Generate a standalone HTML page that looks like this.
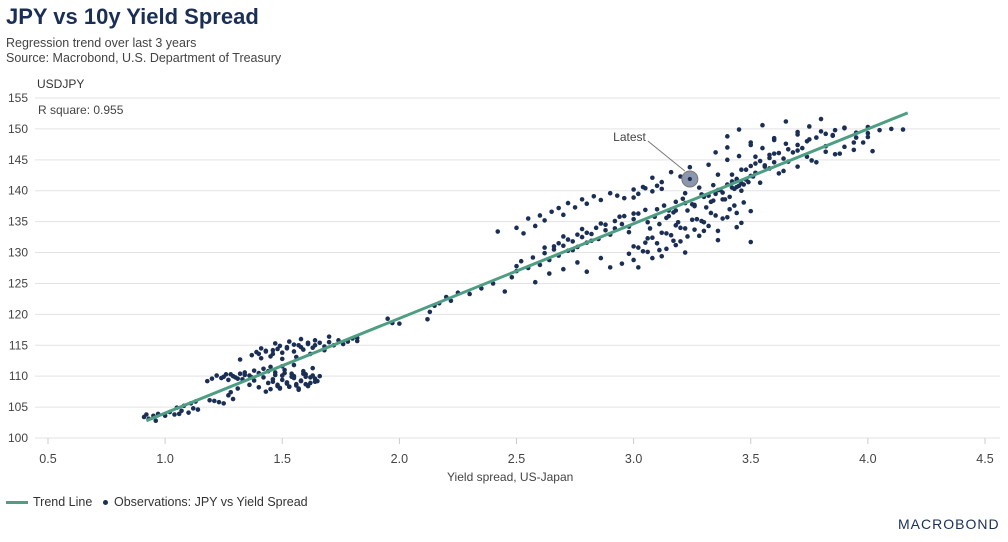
<!DOCTYPE html>
<html><head><meta charset="utf-8"><style>
body{margin:0;background:#fff;font-family:"Liberation Sans",sans-serif;}
#wrap{position:relative;width:1008px;height:542px;overflow:hidden;}
.t{position:absolute;white-space:nowrap;}
</style></head><body>
<div id="wrap">
<div class="t" style="left:6px;top:4px;font-size:22px;font-weight:bold;color:#1b2f55;">JPY vs 10y Yield Spread</div>
<div class="t" style="left:6px;top:36px;font-size:12.5px;color:#444;">Regression trend over last 3 years</div>
<div class="t" style="left:6px;top:51px;font-size:12.5px;color:#444;">Source: Macrobond, U.S. Department of Treasury</div>
<div class="t" style="left:37px;top:77px;font-size:12px;color:#333;">USDJPY</div>
<div class="t" style="left:38px;top:103px;font-size:12px;color:#444;">R square: 0.955</div>
<svg id="plot" width="1008" height="542" style="position:absolute;left:0;top:0"></svg>
<div class="t" style="left:447px;top:470px;font-size:12px;color:#444;">Yield spread, US-Japan</div>
<div class="t" style="left:6px;top:495px;font-size:12.5px;color:#333;"><span style="display:inline-block;width:22px;height:3px;background:#4e9e84;vertical-align:middle;margin-right:5px;"></span>Trend Line</div>
<div class="t" style="left:103px;top:495px;font-size:12.5px;color:#333;"><span style="display:inline-block;width:5px;height:5px;border-radius:50%;background:#1b2f55;vertical-align:middle;margin-right:6px;"></span>Observations: JPY vs Yield Spread</div>
<div class="t" style="left:898px;top:516px;font-size:14px;letter-spacing:1px;color:#1b2f55;">MACROBOND</div>
</div>
<script>
const xTicks=[0.5,1.0,1.5,2.0,2.5,3.0,3.5,4.0,4.5];
const yTicks=[100,105,110,115,120,125,130,135,140,145,150,155];
const trendX=[0.92,4.17];
const trendY=[102.8,152.6];
const latestPoint=[3.24,141.9];
const obsX=[0.91,0.92,0.93,0.95,0.96,0.97,1.0,1.02,1.04,1.05,1.06,1.07,1.08,1.1,1.11,1.12,1.13,1.14,
1.19,1.21,1.23,1.25,1.27,1.28,1.29,1.31,
1.18,1.2,1.22,1.24,1.26,1.27,1.29,1.3,1.32,1.33,1.34,1.36,1.38,1.4,1.42,1.44,1.45,
1.36,1.38,1.4,1.42,1.44,1.46,1.48,1.5,1.52,1.53,1.55,1.56,1.58,1.6,1.62,1.64,1.45,1.47,1.49,1.51,1.54,1.57,1.59,1.61,1.63,1.66,1.43,1.5,1.55,1.6,
1.32,1.37,1.39,1.41,1.43,1.46,1.48,1.5,1.52,1.55,1.57,1.59,1.61,1.63,1.66,1.68,1.7,1.72,1.74,1.76,1.78,1.8,1.82,1.45,1.5,1.56,1.62,1.68,1.41,1.47,1.53,1.58,1.64,1.7,
1.82,1.95,1.97,2.0,2.12,2.13,2.15,2.17,2.2,2.22,2.25,2.3,2.35,2.4,2.45,2.48,2.5,
2.42,2.5,2.53,2.55,2.58,2.6,2.62,2.65,2.68,2.7,2.72,2.75,2.78,2.8,2.83,2.86,2.9,2.93,2.96,3.0,3.02,3.05,3.08,3.1,3.12,
2.5,2.52,2.55,2.57,2.6,2.62,2.64,2.66,2.68,2.7,2.72,2.74,2.76,2.78,2.8,2.82,2.85,2.88,2.92,2.95,2.98,3.0,
2.66,2.7,2.74,2.78,2.82,2.86,2.9,2.94,2.98,3.02,3.06,3.1,3.14,3.18,3.22,3.26,3.3,3.34,3.38,3.42,3.46,
2.95,2.98,3.0,3.02,3.04,3.06,3.08,3.1,3.12,3.14,3.16,3.18,3.2,3.22,3.25,3.28,3.3,3.33,3.36,3.4,3.43,3.46,3.5,
3.0,3.04,3.08,3.12,3.16,3.2,3.24,3.28,3.32,3.36,3.4,3.44,3.48,3.52,3.56,3.6,
3.15,3.18,3.22,3.26,3.3,3.34,3.38,3.42,3.46,3.5,3.54,3.58,3.62,3.66,3.7,3.74,3.78,3.82,3.86,3.9,3.94,3.98,
3.35,3.4,3.45,3.5,3.55,3.6,3.65,3.7,3.75,3.8,3.85,3.9,3.95,4.0,4.05,4.1,4.15,
3.4,3.45,3.5,3.55,3.6,3.65,3.7,3.75,3.8,3.85,3.9,3.95,4.0,
3.52,3.58,3.64,3.7,3.76,3.82,3.88,3.94,4.0,4.02,
2.58,2.64,2.7,2.76,2.8,2.86,2.9,3.0,3.06,3.12,3.18,3.22,3.3,3.36,3.44,3.5,
1.46,1.48,1.5,1.52,1.54,1.56,1.58,1.6,1.62,1.64,1.47,1.51,1.55,1.59,1.63,1.49,1.53,1.57,1.61,1.65,
1.25,1.28,1.31,1.34,1.37,1.4,1.43,1.46,1.49,1.52,1.55,1.58,1.61,1.64,
3.02,3.05,3.08,3.11,3.14,3.17,3.2,3.23,3.26,3.29,3.32,3.35,3.38,3.41,3.44,3.47,3.05,3.09,3.13,3.17,3.21,3.25,3.29,3.33,3.37,3.41,3.45,3.49,3.07,3.11,3.15,3.19,3.23,3.27,3.31,3.35,3.39,3.43,3.47,3.51,
2.62,2.68,2.72,2.76,2.8,2.84,2.88,2.92,2.96,3.0,
3.42,3.46,3.5,3.54,3.58,3.62,3.66,3.7,3.74,3.78,3.82,3.86,3.44,3.48,3.52,3.56,3.6,3.64,3.68,3.72,3.32,3.36,3.4,3.44];
const obsY=[103.4,103.8,103.1,103.6,102.8,103.9,103.6,104.2,103.8,104.9,103.9,104.4,105.2,104.1,105.6,104.8,105.9,104.6,
106.1,106.0,105.8,105.6,106.9,107.4,106.3,108.0,
109.2,109.6,110.1,109.7,110.3,109.4,110.0,109.8,110.4,109.5,110.6,110.1,110.9,110.5,111.2,110.8,111.5,
108.6,109.3,108.2,109.8,108.9,109.5,108.4,110.1,109.0,108.3,109.7,108.7,109.2,110.3,108.9,109.6,107.9,110.6,108.0,111.0,110.4,107.8,110.8,108.5,111.3,110.0,107.5,111.6,111.8,109.9,
112.7,113.4,113.9,112.9,114.1,113.6,114.4,113.8,114.7,114.0,115.0,114.3,115.2,114.6,115.4,114.8,115.5,115.0,115.8,115.2,115.6,116.1,115.7,113.2,112.8,113.1,113.6,114.2,114.5,115.3,115.6,116.0,115.8,116.4,
116.2,119.3,118.6,118.5,119.2,120.4,121.4,121.8,122.8,122.2,123.5,123.3,124.2,125.0,123.7,126.0,127.0,
133.4,134.0,133.1,135.5,134.3,136.0,135.2,136.6,137.2,136.1,138.0,137.3,138.6,137.9,139.1,138.5,139.6,139.2,138.8,140.2,139.5,140.4,139.9,140.8,140.3,
127.8,128.6,127.5,129.2,128.0,129.9,128.8,130.5,129.5,131.1,130.3,131.8,130.9,132.5,131.6,133.0,132.2,133.6,133.9,134.6,134.2,135.4,
131.0,132.6,130.4,133.8,131.9,134.7,132.9,135.8,133.3,136.3,134.9,137.0,135.6,136.8,138.0,137.5,139.0,138.4,139.7,140.5,141.2,
128.2,129.8,131.0,127.6,130.2,132.3,129.1,131.5,133.2,130.6,132.8,134.4,131.8,133.9,135.3,132.7,134.9,136.4,133.5,135.7,137.6,134.8,136.7,
138.9,140.6,142.1,141.4,143.0,142.3,143.8,140.5,144.2,142.6,145.0,141.9,143.4,145.5,144.1,146.0,
136.8,138.2,139.6,137.7,139.2,140.9,138.6,141.5,140.0,142.4,141.3,143.6,142.8,144.7,143.9,145.5,144.6,146.3,145.9,147.1,146.6,147.8,
146.2,147.0,145.6,147.8,146.9,148.5,147.6,149.1,148.3,149.6,148.9,150.1,149.4,150.3,149.8,150.0,149.9,
148.8,149.9,147.4,150.6,148.2,151.2,149.5,150.4,151.6,149.0,150.2,148.6,149.3,
144.4,145.8,143.2,146.5,144.9,147.2,146.0,147.8,148.7,146.4,
125.2,126.6,127.3,128.4,126.9,129.1,127.6,128.8,130.1,129.4,131.2,130.0,133.5,132.0,134.1,131.7,
109.1,108.6,109.4,108.8,109.9,108.5,109.3,108.7,109.8,109.1,110.2,110.5,110.0,110.4,110.1,108.1,108.3,108.0,108.4,109.2,
109.9,110.3,109.6,110.2,109.8,113.6,114.0,114.2,114.9,114.5,115.1,114.7,115.4,115.0,
130.8,131.6,132.4,130.4,133.1,131.9,134.0,132.6,133.7,135.1,134.3,136.0,135.5,137.0,136.4,138.1,136.9,135.8,137.6,136.5,138.7,137.8,139.4,138.2,140.1,139.0,140.8,141.4,133.9,134.6,135.9,134.9,136.8,135.4,137.3,139.5,138.6,140.3,141.0,142.3,
130.8,131.5,132.1,132.9,133.2,134.0,134.5,135.1,135.9,136.3,
142.6,143.4,144.0,144.8,145.3,146.1,146.7,147.4,148.0,148.6,149.2,149.8,140.6,141.8,142.9,143.9,144.6,145.2,146.2,146.9,139.2,140.1,141.0,141.7];
const NS="http://www.w3.org/2000/svg";
const svg=document.getElementById('plot');
const X0=0.5,X1=4.5,PX0=48,PX1=985,Y0=100,Y1=155,PY0=438,PY1=98;
function sx(v){return PX0+(v-X0)/(X1-X0)*(PX1-PX0);}
function sy(v){return PY0-(v-Y0)/(Y1-Y0)*(PY0-PY1);}
function mk(tag,attrs){const e=document.createElementNS(NS,tag);for(const k in attrs)e.setAttribute(k,attrs[k]);svg.appendChild(e);return e;}
yTicks.forEach(t=>{
  const g=mk('line',{x1:35,x2:1000,y1:sy(t),y2:sy(t),stroke:'#e3e3e3','stroke-width':1});
  
  
  const l=mk('text',{x:28,y:sy(t)+4,'text-anchor':'end','font-size':12,fill:'#444','font-family':'Liberation Sans, sans-serif'});
  l.textContent=t;
  
  
});
xTicks.forEach(t=>{
  const tk=mk('line',{x1:sx(t),x2:sx(t),y1:438,y2:444,stroke:'#ccc','stroke-width':1});
  
  
  const l=mk('text',{x:sx(t),y:463,'text-anchor':'middle','font-size':12.5,fill:'#444','font-family':'Liberation Sans, sans-serif'});
  l.textContent=t.toFixed(1);
  
  
});
for(let i=0;i<obsX.length;i++){
  const c=mk('circle',{cx:sx(obsX[i]),cy:sy(obsY[i]),r:2.3,fill:'#1b2f55'});
  
  
}
const tl=mk('line',{x1:sx(trendX[0]),y1:sy(trendY[0]),x2:sx(trendX[1]),y2:sy(trendY[1]),stroke:'#4e9e84','stroke-width':3});


const lx=sx(latestPoint[0]),ly=sy(latestPoint[1]);
const ann=mk('line',{x1:lx-42,y1:ly-38,x2:lx-5,y2:ly-8,stroke:'#777','stroke-width':1});


const at=mk('text',{x:lx-44,y:ly-38,'text-anchor':'end','font-size':12,fill:'#444','font-family':'Liberation Sans, sans-serif'});
at.textContent='Latest';


const lc=mk('circle',{cx:lx,cy:ly,r:8,fill:'#8c97ae',stroke:'#777','stroke-width':1});


const ld=mk('circle',{cx:lx,cy:ly,r:2.1,fill:'#1b2f55'});


</script>
</body></html>
